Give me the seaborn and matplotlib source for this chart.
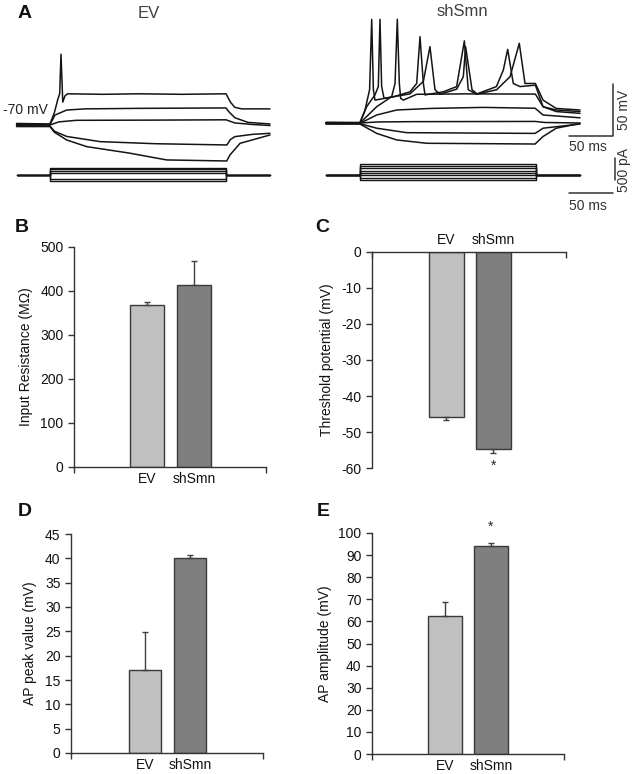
import numpy as np
import pandas as pd
import matplotlib
matplotlib.use("Agg")
import matplotlib.pyplot as plt
import seaborn as sns

W, H = 638, 774

# ---- panel A: current-clamp traces (keypoints; t in ms, V in mV)
ev_times = [
    [-38, 0, 5, 9, 11, 12.5, 14.5, 17, 20, 60, 100, 150, 200, 205, 210, 218, 250],
    [-38, 0, 5.7, 19, 40, 100, 200, 203, 210, 225, 250],
    [-38, 0, 10, 30, 120, 200, 210, 230, 250],
    [-38, 0, 5, 19, 57, 120, 201, 205, 210, 230, 250],
    [-38, 0, 5, 19, 41.7, 90, 132.6, 200.8, 204.5, 216, 250],
]
ev_volts = [
    [-68.5, -69, -58, -45, -40, -2, -48, -42, -40, -40.5, -40, -40.5, -40, -48, -53, -54.5, -54.5],
    [-69.3, -69.5, -60.4, -55.6, -54.5, -54, -53.6, -57, -63, -67.5, -69],
    [-70, -70, -67, -65.5, -65.3, -65, -68, -69.5, -70.5],
    [-70.7, -71, -76, -81, -86, -88, -89.2, -84, -81.2, -79, -78],
    [-71.5, -71.5, -77, -84.4, -90.8, -97, -103.6, -104.6, -98.8, -87.6, -79.6],
]
ev_currents = [160, 130, 100, 40, -80, -136]

sh_times = [
    [-38.6, 0, 5.7, 10.9, 13.3, 15.2, 17, 37.9, 56.8, 64.4, 68.2, 72, 73.9, 94.7, 109.8, 118.6,
     123, 132.6, 155.3, 170.5, 181, 187.5, 199.3, 208, 223, 250],
    [-38.6, 0, 7.6, 17, 20.8, 22.7, 24.6, 27.3, 56.8, 72, 79.5, 85.2, 90.9, 109.8, 117.4, 120,
     127.3, 133, 155, 162.9, 167.8, 174.2, 181.8, 199.3, 208, 223, 250],
    [-38.6, 0, 19, 36, 39.8, 42.4, 44.7, 46.2, 49.2, 64.4, 120, 199.3, 208, 223, 250],
    [-38.6, 0, 19, 41.7, 80, 140, 199, 208, 250],
    [-38.6, 0, 20, 60, 199, 210, 250],
    [-38.6, 0, 19, 53, 199, 208, 250],
    [-38.6, 0, 19, 41.7, 75.8, 199, 208, 223, 250],
]
sh_volts = [
    [-69.3, -69.5, -57.5, -38, 29.7, -38, -48, -44.8, -40, -32, 13, -32, -43, -40, -35, 9,
     -38, -42.4, -38, -25.5, 6.6, -32, -32, -48, -56, -57.5],
    [-69.7, -69.8, -54.3, -43, -35, 29.7, -35, -46.3, -42, -30, 3.4, -38, -42.4, -37.5, -25.5, 3.4,
     -38, -42, -35, -19, 0.8, -32, -35, -33.6, -54.3, -57.5, -59],
    [-70, -70, -54.3, -44.7, -32, 29.7, -32, -46.3, -48, -42.4, -42, -42.2, -54.3, -59, -60.7],
    [-70.3, -70.3, -62.3, -57.5, -56, -55, -55.8, -62.3, -65],
    [-70, -70, -69, -68.7, -68.5, -69.5, -70],
    [-70.7, -70.7, -75, -79.3, -80, -75, -71],
    [-71, -71, -80, -86.3, -89.5, -90.2, -83, -75, -70.5],
]
sh_currents = [250, 200, 150, 100, 50, 0, -60, -114]
step_on, step_off = 0, 200

# ---- panels B-E: bar values (mean, one-sided SEM)
groups = ["EV", "shSmn"]
rin_mean = [368, 413]
rin_err = [7, 55]
thr_mean = [-45.7, -54.8]
thr_err = [1.1, 1.1]
peak_mean = [17, 40]
peak_err = [7.8, 0.7]
amp_mean = [62.4, 94.3]
amp_err = [6.4, 1.3]

bar_colors = ["#c0c0c0", "#7f7f7f"]
edge = "#3a3a3a"
trace_col = "#141414"

sns.set_style("ticks")
plt.rcParams["font.family"] = ["Liberation Sans", "DejaVu Sans"]
plt.rcParams["axes.linewidth"] = 1.0
plt.rcParams["axes.unicode_minus"] = False

fig = plt.figure(figsize=(W / 100, H / 100), dpi=100)


def px_axes(x0, y0, x1, y1):
    return fig.add_axes([x0 / W, 1 - y1 / H, (x1 - x0) / W, (y1 - y0) / H])


def ftext(x, y, s, **kw):
    fig.text(x / W, 1 - y / H, s, **kw)


def trace_axes(box, xt0, yref, vref, kx, ky):
    x0, y0, x1, y1 = box
    ax = px_axes(*box)
    ax.set_xlim((x0 - xt0) / kx, (x1 - xt0) / kx)
    ax.set_ylim(vref - (y1 - yref) / ky, vref + (yref - y0) / ky)
    ax.axis("off")
    ax.patch.set_alpha(0)
    return ax


KX, KV, KI = 0.88, 1.04, 0.044

# EV traces
axv = trace_axes((10, 30, 300, 168), 50, 125, -70, KX, KV)
for t, v in zip(ev_times, ev_volts):
    sns.lineplot(x=t, y=v, ax=axv, color=trace_col, lw=1.1, sort=False, estimator=None)
axi = trace_axes((10, 150, 300, 200), 50, 175, 0, KX, KI)
for cur in ev_currents:
    axi.plot([-38, step_on, step_on, step_off, step_off, 250], [0, 0, cur, cur, 0, 0],
             color=trace_col, lw=1.0)

# shSmn traces
axv2 = trace_axes((320, 10, 635, 168), 360, 123, -70, KX, KV)
for t, v in zip(sh_times, sh_volts):
    sns.lineplot(x=t, y=v, ax=axv2, color=trace_col, lw=1.1, sort=False, estimator=None)
axi2 = trace_axes((320, 150, 635, 215), 360, 175, 0, KX, KI)
for cur in sh_currents:
    axi2.plot([-38.6, step_on, step_on, step_off, step_off, 250], [0, 0, cur, cur, 0, 0],
              color=trace_col, lw=1.0)

# scale bars: 50 mV / 50 ms and 500 pA / 50 ms
axv2.plot([237.5, 287.5, 287.5], [-82.5, -82.5, -32.5], color="#333333", lw=1.1, clip_on=False)
axi2.plot([290, 290], [-114, 386], color="#333333", lw=1.1, clip_on=False)
axi2.plot([237.5, 287.5], [-409, -409], color="#333333", lw=1.1, clip_on=False)

ftext(588, 147, "50 ms", ha="center", va="center", fontsize=10, color="#333333")
ftext(588, 206, "50 ms", ha="center", va="center", fontsize=10, color="#333333")
ftext(624, 110, "50 mV", ha="center", va="center", fontsize=10, rotation=90, color="#333333")
ftext(624, 170, "500 pA", ha="center", va="center", fontsize=10, rotation=90, color="#333333")
ftext(25, 110, "-70 mV", ha="center", va="center", fontsize=10, color="#222222")
ftext(149, 14, "EV", ha="center", va="center", fontsize=12, color="#404040")
ftext(462, 12, "shSmn", ha="center", va="center", fontsize=12, color="#404040")


def bar_panel(box, xlim, ylim, yticks, mean, err, ylabel, down=False, lpad=4):
    ax = px_axes(*box)
    df = pd.DataFrame({"group": groups, "value": mean})
    sns.barplot(data=df, x="group", y="value", hue="group", palette=bar_colors,
                width=0.73, edgecolor=edge, linewidth=1.0, errorbar=None,
                legend=False, ax=ax)
    zeros = [0] * len(err)
    yerr = [err, zeros] if down else [zeros, err]
    ax.errorbar([0, 1], mean, yerr=yerr, fmt="none", ecolor="#404040",
                elinewidth=1.0, capsize=2.5, capthick=1.0)
    ax.set_xlim(*xlim)
    ax.set_ylim(*ylim)
    ax.set_yticks(yticks)
    ax.set_xlabel("")
    ax.set_ylabel(ylabel, fontsize=10, labelpad=lpad, color="#111111")
    ax.tick_params(axis="y", labelsize=10, length=4, width=1, colors="#333333",
                   labelcolor="#111111")
    ax.tick_params(axis="x", which="major", labelsize=10, length=0, labelcolor="#111111")
    ax.set_xticks(list(xlim), minor=True)
    ax.tick_params(axis="x", which="minor", length=4, width=1, colors="#333333")
    for s in ["left", "bottom", "top"]:
        ax.spines[s].set_color("#333333")
    ax.patch.set_alpha(0)
    if down:
        ax.xaxis.tick_top()
        ax.tick_params(axis="x", which="minor", direction="in")
        ax.spines["bottom"].set_visible(False)
        ax.spines["right"].set_visible(False)
    else:
        sns.despine(ax=ax)
    return ax


axB = bar_panel((74, 247, 266, 467), (-1.553, 2.532), (0, 500), range(0, 501, 100),
                rin_mean, rin_err, "Input Resistance (M\u03a9)", lpad=5)
axC = bar_panel((372, 252, 566, 468), (-1.585, 2.543), (-60, 0), range(-60, 1, 10),
                thr_mean, thr_err, "Threshold potential (mV)", down=True, lpad=5)
axD = bar_panel((71, 534, 263, 753), (-1.644, 2.622), (0, 45), range(0, 46, 5),
                peak_mean, peak_err, "AP peak value (mV)", lpad=6)
axE = bar_panel((372, 533, 564, 754), (-1.587, 2.587), (0, 100), range(0, 101, 10),
                amp_mean, amp_err, "AP amplitude (mV)", lpad=5)

axC.text(1, -59.4, "*", ha="center", va="center", fontsize=10, color="#222222")
axE.text(1, 102.7, "*", ha="center", va="center", fontsize=10, color="#222222", clip_on=False)

for lab, x, y in [("A", 25, 14), ("B", 22, 227), ("C", 322, 227), ("D", 25, 511), ("E", 323, 512)]:
    ftext(x, y, lab, ha="center", va="center", fontsize=14, fontweight="bold", color="#111111")

fig.savefig("out.png", dpi=100)
